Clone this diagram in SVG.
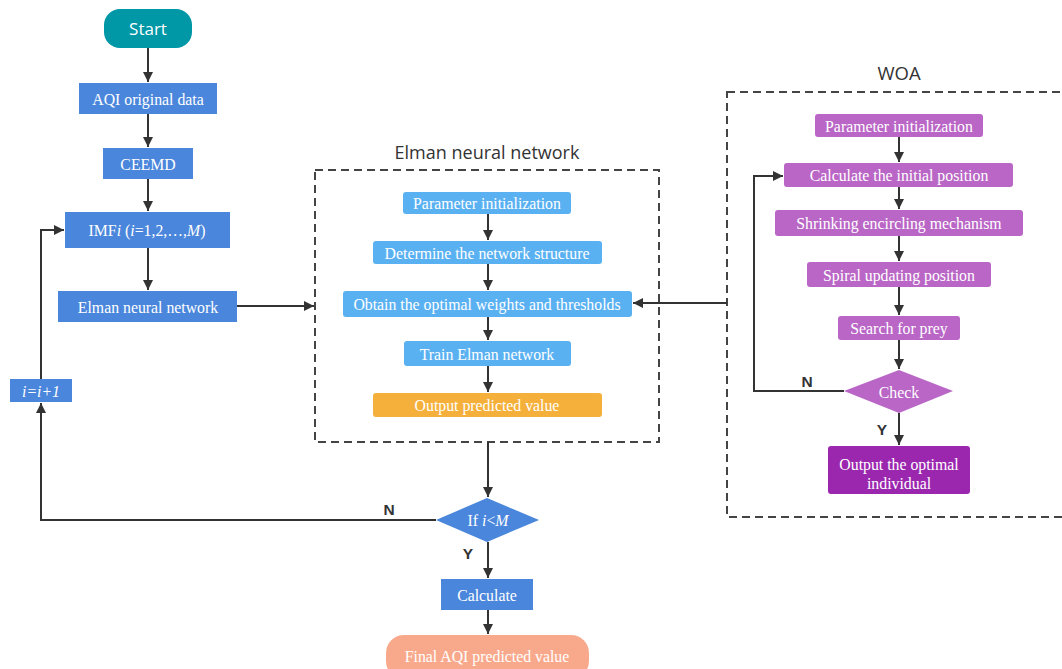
<svg xmlns="http://www.w3.org/2000/svg" width="1062" height="669" viewBox="0 0 1062 669">
<defs>
<marker id="arr" viewBox="0 0 10 10" refX="10" refY="5" markerWidth="10" markerHeight="10" markerUnits="userSpaceOnUse" orient="auto">
<path d="M0,0 L10,5 L0,10 z" fill="#333"/>
</marker>
<style>
.b{fill:#4a86db}
.lb{fill:#5ab1f2}
.p{fill:#b966c6}
.t{font-family:"Liberation Serif",serif;font-size:15.8px;fill:#fff;text-anchor:middle}
.s{font-family:"Open Sans","Noto Sans",sans-serif;fill:#333;text-anchor:middle}
.lbl{font-family:"Liberation Sans",Arial,sans-serif;font-weight:bold;font-size:15.5px;fill:#333;text-anchor:middle}
.c{fill:none;stroke:#333;stroke-width:2}
.d{fill:none;stroke:#444;stroke-width:2;stroke-dasharray:8 5}
</style>
</defs>
<rect width="1062" height="669" fill="#fff"/>

<g id="elman-group">
<rect class="d" x="315" y="170" width="344" height="272"/>
<text class="s" x="487" y="159" font-size="18">Elman neural network</text>
</g>
<g id="woa-group">
<rect class="d" x="727" y="92" width="345" height="425"/>
<text class="s" x="899" y="80" font-size="18.5">WOA</text>
</g>

<g id="connectors">
<path class="c" d="M148,48 V82" marker-end="url(#arr)"/>
<path class="c" d="M148,114 V147" marker-end="url(#arr)"/>
<path class="c" d="M148,179 V211" marker-end="url(#arr)"/>
<path class="c" d="M148,248 V290" marker-end="url(#arr)"/>
<path class="c" d="M237,306 H314" marker-end="url(#arr)"/>
<path class="c" d="M488,214 V240" marker-end="url(#arr)"/>
<path class="c" d="M488,264 V290" marker-end="url(#arr)"/>
<path class="c" d="M488,317 V340" marker-end="url(#arr)"/>
<path class="c" d="M488,366 V392" marker-end="url(#arr)"/>
<path class="c" d="M727,303 H633" marker-end="url(#arr)"/>
<path class="c" d="M488,442 V497" marker-end="url(#arr)"/>
<path class="c" d="M488,542 V578" marker-end="url(#arr)"/>
<path class="c" d="M488,610 V634" marker-end="url(#arr)"/>
<path class="c" d="M436,520 H41 V403" marker-end="url(#arr)"/>
<path class="c" d="M41,379 V230 H64" marker-end="url(#arr)"/>
<path class="c" d="M899,137 V162" marker-end="url(#arr)"/>
<path class="c" d="M899,187 V209" marker-end="url(#arr)"/>
<path class="c" d="M899,236 V261" marker-end="url(#arr)"/>
<path class="c" d="M899,287 V315" marker-end="url(#arr)"/>
<path class="c" d="M899,340 V369" marker-end="url(#arr)"/>
<path class="c" d="M899,413 V445" marker-end="url(#arr)"/>
<path class="c" d="M844,391 H754 V176 H783" marker-end="url(#arr)"/>
<text class="lbl" x="389" y="515">N</text>
<text class="lbl" x="468" y="559">Y</text>
<text class="lbl" x="807" y="387">N</text>
<text class="lbl" x="882" y="435">Y</text>
</g>

<g id="start">
<rect x="104" y="9" width="88" height="39" rx="16" fill="#0097a7"/>
<text x="148" y="35" font-family="'Open Sans','Noto Sans',sans-serif" font-size="17" fill="#fff" text-anchor="middle">Start</text>
</g>
<g id="aqi-data">
<rect class="b" x="79" y="83" width="138" height="31"/>
<text class="t" x="148" y="105">AQI original data</text>
</g>
<g id="ceemd">
<rect class="b" x="103" y="148" width="90" height="31"/>
<text class="t" x="148" y="170">CEEMD</text>
</g>
<g id="imf">
<rect class="b" x="65" y="212" width="165" height="36"/>
<text class="t" x="147" y="236">IMF<tspan font-style="italic">i</tspan> (<tspan font-style="italic">i</tspan>=1,2,…,<tspan font-style="italic">M</tspan>)</text>
</g>
<g id="elman-nn">
<rect class="b" x="58" y="291" width="179" height="31"/>
<text class="t" x="148" y="313">Elman neural network</text>
</g>
<g id="inc">
<rect class="b" x="10" y="379" width="62" height="23"/>
<text class="t" x="41" y="397" font-style="italic">i=i+1</text>
</g>

<g id="e-param">
<rect class="lb" x="403" y="192" width="168" height="22" rx="3"/>
<text class="t" x="487" y="209">Parameter initialization</text>
</g>
<g id="e-struct">
<rect class="lb" x="373" y="241" width="229" height="23" rx="3"/>
<text class="t" x="487" y="259">Determine the network structure</text>
</g>
<g id="e-weights">
<rect class="lb" x="343" y="291" width="289" height="26" rx="3"/>
<text class="t" x="487" y="310">Obtain the optimal weights and thresholds</text>
</g>
<g id="e-train">
<rect class="lb" x="404" y="341" width="167" height="25" rx="3"/>
<text class="t" x="487" y="360">Train Elman network</text>
</g>
<g id="e-output">
<rect x="373" y="393" width="229" height="24" rx="3" fill="#f4b03a"/>
<text class="t" x="487" y="411">Output predicted value</text>
</g>

<g id="if">
<polygon class="b" points="487,498 539,520 487,542 436,520"/>
<text class="t" x="488" y="526">If <tspan font-style="italic">i</tspan>&lt;<tspan font-style="italic">M</tspan></text>
</g>
<g id="calc">
<rect class="b" x="441" y="579" width="92" height="31"/>
<text class="t" x="487" y="601">Calculate</text>
</g>
<g id="final">
<rect x="386" y="635" width="203" height="44" rx="18" fill="#f9a98b"/>
<text class="t" x="487" y="662">Final AQI predicted value</text>
</g>

<g id="w-param">
<rect class="p" x="815" y="114" width="168" height="23" rx="3"/>
<text class="t" x="899" y="132">Parameter initialization</text>
</g>
<g id="w-calc">
<rect class="p" x="784" y="163" width="229" height="24" rx="3"/>
<text class="t" x="899" y="181">Calculate the initial position</text>
</g>
<g id="w-shrink">
<rect class="p" x="775" y="210" width="248" height="26" rx="3"/>
<text class="t" x="899" y="229">Shrinking encircling mechanism</text>
</g>
<g id="w-spiral">
<rect class="p" x="807" y="262" width="184" height="25" rx="3"/>
<text class="t" x="899" y="281">Spiral updating position</text>
</g>
<g id="w-search">
<rect class="p" x="838" y="316" width="122" height="24" rx="3"/>
<text class="t" x="899" y="334">Search for prey</text>
</g>
<g id="w-check">
<polygon class="p" points="899,370 953,391 899,413 844,391"/>
<text class="t" x="899" y="398">Check</text>
</g>
<g id="w-output">
<rect x="828" y="446" width="142" height="48" rx="3" fill="#9b27af"/>
<text class="t" x="899" y="470">Output the optimal</text>
<text class="t" x="899" y="489">individual</text>
</g>
</svg>
